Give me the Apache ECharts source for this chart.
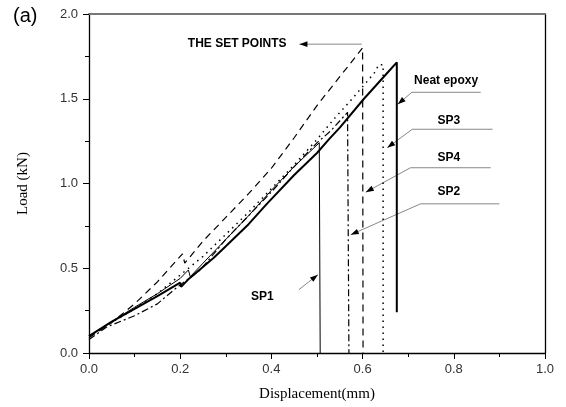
<!DOCTYPE html>
<html><head><meta charset="utf-8">
<script src="https://cdn.jsdelivr.net/npm/echarts@6/dist/echarts.min.js"></script>
<style>html,body{margin:0;padding:0;background:#fff}#c{width:566px;height:407px}</style>
</head><body><div id="c"></div>
<script>
// Tick labels
const xTicks = [0.0, 0.2, 0.4, 0.6, 0.8, 1.0];
const yTicks = [0.0, 0.5, 1.0, 1.5, 2.0];

// Neat epoxy (thick solid)
const neatX = [0, 0.05, 0.1, 0.15, 0.2, 0.202, 0.22, 0.273, 0.3, 0.35, 0.39, 0.45, 0.5, 0.526, 0.55, 0.603, 0.65, 0.675, 0.675];
const neatY = [0.10, 0.185, 0.26, 0.335, 0.415, 0.39, 0.44, 0.56, 0.63, 0.76, 0.88, 1.05, 1.18, 1.26, 1.33, 1.50, 1.64, 1.715, 0.24];
// SP1 (thin solid)
const sp1X = [0, 0.05, 0.1, 0.15, 0.2, 0.218, 0.222, 0.25, 0.3, 0.35, 0.4, 0.45, 0.505, 0.507];
const sp1Y = [0.10, 0.185, 0.27, 0.35, 0.44, 0.49, 0.45, 0.53, 0.67, 0.81, 0.96, 1.10, 1.24, 0];
// SP2 (dash-dot)
const sp2X = [0, 0.04, 0.1, 0.15, 0.185, 0.244, 0.3, 0.35, 0.4, 0.45, 0.5, 0.53, 0.567, 0.57, 0.57];
const sp2Y = [0.08, 0.155, 0.22, 0.29, 0.37, 0.49, 0.67, 0.81, 0.95, 1.10, 1.24, 1.31, 1.42, 1.42, 0];
// SP3 (dotted)
const sp3X = [0, 0.05, 0.1, 0.15, 0.2, 0.25, 0.3, 0.35, 0.4, 0.45, 0.5, 0.537, 0.574, 0.614, 0.628, 0.635, 0.645, 0.645];
const sp3Y = [0.10, 0.18, 0.26, 0.35, 0.46, 0.57, 0.70, 0.83, 0.97, 1.11, 1.26, 1.38, 1.49, 1.615, 1.66, 1.70, 1.70, 0];
// SP4 (dashed)
const sp4X = [0, 0.05, 0.1, 0.15, 0.205, 0.21, 0.25, 0.3, 0.35, 0.4, 0.45, 0.5, 0.55, 0.6, 0.601];
const sp4Y = [0.09, 0.18, 0.29, 0.42, 0.585, 0.53, 0.66, 0.80, 0.94, 1.09, 1.27, 1.46, 1.63, 1.80, 0];

// Annotations (data coordinates): text position, leader path (last point = arrow tip)
const annoText = ['THE SET POINTS', 'Neat epoxy', 'SP3', 'SP4', 'SP2', 'SP1'];
const annoTextPos = [[0.325, 1.822], [0.783, 1.604], [0.789, 1.373], [0.789, 1.154], [0.789, 0.953], [0.380, 0.331]];
const annoPaths = [
  [[0.598, 1.822], [0.4615, 1.822]],
  [[0.859, 1.538], [0.708, 1.538], [0.677, 1.467]],
  [[0.885, 1.320], [0.709, 1.320], [0.654, 1.211]],
  [[0.881, 1.093], [0.705, 1.093], [0.607, 0.949]],
  [[0.900, 0.880], [0.727, 0.880], [0.574, 0.698]],
  [[0.460, 0.373], [0.502, 0.462]]
];

const zip = (xs, ys) => xs.map((x, i) => [x, ys[i]]);
const chart = echarts.init(document.getElementById('c'), null, {renderer: 'canvas'});
const labelStyle = {fontFamily: 'Liberation Sans, Arial, sans-serif', fontSize: 13, color: '#333'};
const fmt = v => v.toFixed(1);

chart.setOption({
  animation: false,
  backgroundColor: '#fff',
  grid: {left: 89, right: 21, top: 14, bottom: 54},
  xAxis: [{
    type: 'value', min: 0, max: 1, interval: 0.2,
    axisLine: {onZero: false, lineStyle: {color: '#000', width: 1.3}},
    axisTick: {show: true, inside: false, length: 6, lineStyle: {color: '#000'}},
    minorTick: {show: true, splitNumber: 2, length: 4, lineStyle: {color: '#000'}},
    splitLine: {show: false},
    axisLabel: Object.assign({margin: 10, formatter: fmt, showMinLabel: true, showMaxLabel: true}, labelStyle),
    name: 'Displacement(mm)', nameLocation: 'middle', nameGap: 34,
    nameTextStyle: {fontFamily: 'Liberation Serif, Times New Roman, serif', fontSize: 15, color: '#000'}
  }, {
    type: 'value', min: 0, max: 1, position: 'top',
    axisLine: {show: true, onZero: false, lineStyle: {color: '#777', width: 2}},
    axisTick: {show: false}, axisLabel: {show: false}, splitLine: {show: false}
  }],
  yAxis: [{
    type: 'value', min: 0, max: 2, interval: 0.5,
    axisLine: {show: true, onZero: false, lineStyle: {color: '#000', width: 1.3}},
    axisTick: {show: true, inside: false, length: 6, lineStyle: {color: '#000'}},
    minorTick: {show: true, splitNumber: 2, length: 4, lineStyle: {color: '#000'}},
    splitLine: {show: false},
    axisLabel: Object.assign({margin: 11, formatter: fmt}, labelStyle),
    name: 'Load (kN)', nameLocation: 'middle', nameGap: 58, nameRotate: 90,
    nameTextStyle: {fontFamily: 'Liberation Serif, Times New Roman, serif', fontSize: 15, color: '#000'}
  }, {
    type: 'value', min: 0, max: 2, position: 'right',
    axisLine: {show: true, onZero: false, lineStyle: {color: '#000', width: 1.3}},
    axisTick: {show: false}, axisLabel: {show: false}, splitLine: {show: false}
  }],
  series: [
    {name: 'SP4', type: 'line', data: zip(sp4X, sp4Y), showSymbol: false, symbol: 'none',
     lineStyle: {color: '#000', width: 1.2, type: [7, 5]}},
    {name: 'SP3', type: 'line', data: zip(sp3X, sp3Y), showSymbol: false, symbol: 'none',
     lineStyle: {color: '#000', width: 1.5, type: [1.5, 4.5]}},
    {name: 'SP2', type: 'line', data: zip(sp2X, sp2Y), showSymbol: false, symbol: 'none',
     lineStyle: {color: '#000', width: 1.2, type: [7, 3, 2, 3]}},
    {name: 'SP1', type: 'line', data: zip(sp1X, sp1Y), showSymbol: false, symbol: 'none',
     lineStyle: {color: '#000', width: 1}},
    {name: 'Neat epoxy', type: 'line', data: zip(neatX, neatY), showSymbol: false, symbol: 'none',
     lineStyle: {color: '#000', width: 2}}
  ]
});

const px = p => chart.convertToPixel({xAxisIndex: 0, yAxisIndex: 0}, p);
const gfx = [];
gfx.push({type: 'text', left: 13, top: 6, style: {text: '(a)', font: '20px "Liberation Sans", Arial, sans-serif', fill: '#000'}});
annoText.forEach((t, i) => {
  const c = px(annoTextPos[i]);
  gfx.push({type: 'text', x: c[0], y: c[1], style: {text: t, font: 'bold 12px "Liberation Sans", Arial, sans-serif', fill: '#000', align: 'center', verticalAlign: 'middle'}});
  const pts = annoPaths[i].map(px);
  gfx.push({type: 'polyline', shape: {points: pts}, style: {stroke: '#888', lineWidth: 1, fill: null}});
  const a = pts[pts.length - 1], b = pts[pts.length - 2];
  const dx = a[0] - b[0], dy = a[1] - b[1], L = Math.hypot(dx, dy), ux = dx / L, uy = dy / L;
  const len = 8, hw = 2.8;
  const bx = a[0] - ux * len, by = a[1] - uy * len;
  gfx.push({type: 'polygon', shape: {points: [a, [bx - uy * hw, by + ux * hw], [bx + uy * hw, by - ux * hw]]}, style: {fill: '#000'}});
});
chart.setOption({graphic: gfx});
</script>
</body></html>
